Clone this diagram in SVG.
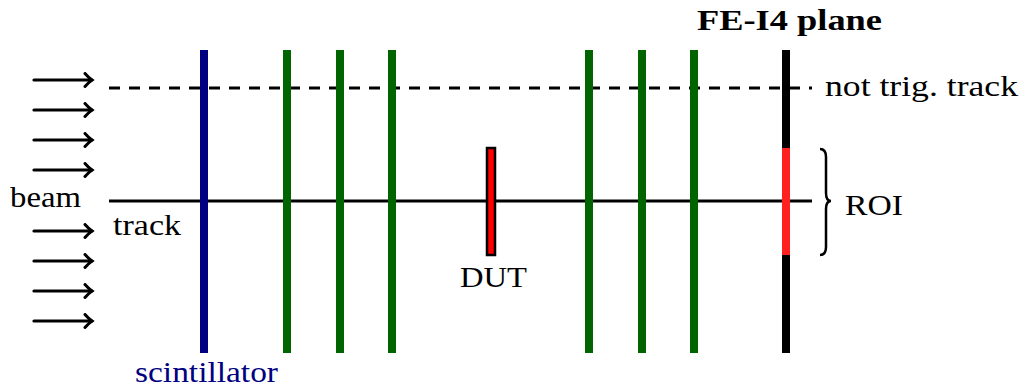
<svg xmlns="http://www.w3.org/2000/svg" width="1030" height="387" viewBox="0 0 1030 387">
<style>
.t{font-family:"Liberation Serif","Times New Roman",serif;font-size:29px;fill:#000}
.b{font-weight:bold}
.arr{stroke:#000;stroke-width:3.2;fill:none;stroke-linecap:round;stroke-linejoin:round}
.pl{stroke-width:8;fill:none}
.g{stroke:#006400}
</style>
<defs>
<marker id="ah" markerWidth="14" markerHeight="16" refX="10" refY="8" orient="auto" markerUnits="userSpaceOnUse">
<path d="M3,1.5 Q7,6 10,8 Q7,10 3,14.5" fill="none" stroke="#000" stroke-width="3" stroke-linecap="round"/>
</marker>
</defs>
<g id="beam-arrows">
<line class="arr" x1="34" y1="80" x2="92" y2="80" marker-end="url(#ah)"/>
<line class="arr" x1="34" y1="110" x2="92" y2="110" marker-end="url(#ah)"/>
<line class="arr" x1="34" y1="140" x2="92" y2="140" marker-end="url(#ah)"/>
<line class="arr" x1="34" y1="170" x2="92" y2="170" marker-end="url(#ah)"/>
<line class="arr" x1="34" y1="231" x2="92" y2="231" marker-end="url(#ah)"/>
<line class="arr" x1="34" y1="261" x2="92" y2="261" marker-end="url(#ah)"/>
<line class="arr" x1="34" y1="291" x2="92" y2="291" marker-end="url(#ah)"/>
<line class="arr" x1="34" y1="321" x2="92" y2="321" marker-end="url(#ah)"/>
</g>
<g id="connectors">
<line x1="109" y1="88" x2="812" y2="88" stroke="#000" stroke-width="3" stroke-dasharray="11 9"/>
<line x1="109" y1="201" x2="812" y2="201" stroke="#000" stroke-width="3"/>
</g>
<g id="scintillator">
<line class="pl" x1="204" y1="50" x2="204" y2="353" stroke="#000080"/>
<text class="t" x="135" y="382" style="fill:#000080" textLength="143" lengthAdjust="spacingAndGlyphs">scintillator</text>
</g>
<g id="telescope-upstream">
<line class="pl g" x1="287" y1="50" x2="287" y2="353"/>
<line class="pl g" x1="340" y1="50" x2="340" y2="353"/>
<line class="pl g" x1="392" y1="50" x2="392" y2="353"/>
</g>
<g id="telescope-downstream">
<line class="pl g" x1="589" y1="50" x2="589" y2="353"/>
<line class="pl g" x1="642" y1="50" x2="642" y2="353"/>
<line class="pl g" x1="694" y1="50" x2="694" y2="353"/>
</g>
<g id="dut">
<rect x="487" y="148" width="8" height="107" fill="#ff0000" stroke="#000" stroke-width="2.5"/>
<text class="t" x="460" y="287" textLength="67" lengthAdjust="spacingAndGlyphs">DUT</text>
</g>
<g id="fei4">
<line class="pl" x1="786" y1="50" x2="786" y2="353" stroke="#000"/>
<line class="pl" x1="786" y1="148" x2="786" y2="255" stroke="#ff2020"/>
<text class="t b" x="697" y="30" textLength="185" lengthAdjust="spacingAndGlyphs">FE-I4 plane</text>
</g>
<g id="roi">
<path d="M820,149 Q826,149 826,157 L826,193 Q826,201 831,201 Q826,201 826,209 L826,247 Q826,255 820,255" fill="none" stroke="#000" stroke-width="2.5"/>
<text class="t" x="845" y="215" textLength="58" lengthAdjust="spacingAndGlyphs">ROI</text>
</g>
<g id="labels">
<text class="t" x="10" y="207" textLength="71" lengthAdjust="spacingAndGlyphs">beam</text>
<text class="t" x="113" y="235" textLength="68" lengthAdjust="spacingAndGlyphs">track</text>
<text class="t" x="825" y="96" textLength="193" lengthAdjust="spacingAndGlyphs">not trig. track</text>
</g>
</svg>
